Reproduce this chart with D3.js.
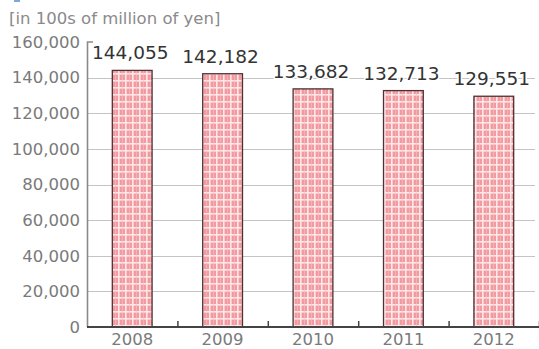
<!DOCTYPE html>
<html>
<head>
<meta charset="utf-8">
<script src="https://cdn.jsdelivr.net/npm/d3@7"></script>
<style>
    body { margin: 0; background: #fff; }
    text { font-family: "DejaVu Sans", sans-serif; }
</style>
</head>
<body>
<div class="chart"></div>
<script>
// Data
const years = ["2008", "2009", "2010", "2011", "2012"];
const amounts = [144055, 142182, 133682, 132713, 129551];
const yTicks = [0, 20000, 40000, 60000, 80000, 100000, 120000, 140000, 160000];
const unitLabel = "[in 100s of million of yen]";

let margin = { top: 42, right: 0, bottom: 22, left: 87 };
let fullWidth = 539;
let fullHeight = 349;
let width = fullWidth - margin.left - margin.right;
let height = fullHeight - margin.top - margin.bottom;

const svg = d3
    .select(".chart")
    .append("svg")
    .attr("width", fullWidth)
    .attr("height", fullHeight);

// plaid fill for the bars
const defs = svg.append("defs");
const pat = defs
    .append("pattern")
    .attr("id", "plaid")
    .attr("patternUnits", "userSpaceOnUse")
    .attr("width", 7)
    .attr("height", 7);
pat.append("rect").attr("width", 7).attr("height", 7).attr("fill", "#f29aa0");
pat.append("rect").attr("x", 3).attr("width", 1.6).attr("height", 7).attr("fill", "#fde8e9");
pat.append("rect").attr("y", 3).attr("width", 7).attr("height", 1.6).attr("fill", "#fde8e9");
pat.append("rect").attr("x", 0).attr("width", 0.6).attr("height", 7).attr("fill", "#f7c2c5");

// small blue mark at top-left (clipped element)
svg.append("rect").attr("x", 14).attr("y", 0).attr("width", 6).attr("height", 2).attr("fill", "#7fa7d8");

svg.append("text")
    .attr("x", 9)
    .attr("y", 24)
    .attr("font-size", "16.5px")
    .attr("fill", "#8a8a8a")
    .text(unitLabel);

const g = svg.append("g").attr("transform", `translate(${margin.left},${margin.top})`);

const x = d3.scaleBand().domain(years).range([0, width]).paddingInner(0.56).paddingOuter(0.28);
const y = d3.scaleLinear().domain([0, 160000]).range([height, 0]);

// gridlines
g.append("g")
    .selectAll("line")
    .data(yTicks.filter((d) => d > 0 && d < 160000))
    .join("line")
    .attr("x1", 0)
    .attr("x2", width - 4)
    .attr("y1", (d) => Math.round(y(d)) + 0.5)
    .attr("y2", (d) => Math.round(y(d)) + 0.5)
    .attr("stroke", "#c4c4c4")
    .attr("stroke-width", 1);

// y axis labels
const yAxis = g.append("g").call(
    d3.axisLeft(y).tickValues(yTicks).tickSize(0).tickPadding(7).tickFormat(d3.format(","))
);
yAxis.select(".domain").remove();
yAxis.selectAll("text")
    .attr("font-size", "16.5px")
    .attr("fill", "#7a7a7a")
    .attr("font-family", "DejaVu Sans, sans-serif");

// bars
g.append("g")
    .selectAll("rect")
    .data(years)
    .join("rect")
    .attr("x", (d) => x(d))
    .attr("y", (d, i) => y(amounts[i]))
    .attr("width", x.bandwidth())
    .attr("height", (d, i) => height - y(amounts[i]))
    .attr("fill", "url(#plaid)")
    .attr("stroke", "#4e3133")
    .attr("stroke-width", 1.3);

// value labels
g.append("g")
    .selectAll("text")
    .data(years)
    .join("text")
    .attr("x", (d) => x(d) + x.bandwidth() / 2 - 2)
    .attr("y", (d, i) => y(amounts[i]) - 11)
    .attr("text-anchor", "middle")
    .attr("font-size", "18.5px")
    .attr("fill", "#333")
    .attr("stroke", "#fff")
    .attr("stroke-width", 3)
    .attr("paint-order", "stroke")
    .text((d, i) => d3.format(",")(amounts[i]));

// y axis line with top hook
g.append("path")
    .attr("d", `M6,${y(160000)}H0.5V${height}`)
    .attr("fill", "none")
    .attr("stroke", "#8a8a8a")
    .attr("stroke-width", 1.6);

// x axis with upward ticks between bars
const xAxis = g.append("g").attr("transform", `translate(0,${height})`);
xAxis.append("line")
    .attr("x1", 0)
    .attr("x2", width)
    .attr("stroke", "#444")
    .attr("stroke-width", 2);
xAxis.selectAll("line.tk")
    .data(years)
    .join("line")
    .attr("class", "tk")
    .attr("x1", (d) => x(d) + x.step() - x.step() * 0.28 + 0.5)
    .attr("x2", (d) => x(d) + x.step() - x.step() * 0.28 + 0.5)
    .attr("y1", 0)
    .attr("y2", -6)
    .attr("stroke", "#444")
    .attr("stroke-width", 1.5);
xAxis.selectAll("text")
    .data(years)
    .join("text")
    .attr("x", (d) => x(d) + x.bandwidth() / 2)
    .attr("y", 18)
    .attr("text-anchor", "middle")
    .attr("font-size", "16.5px")
    .attr("fill", "#7a7a7a")
    .text((d) => d);
</script>
</body>
</html>
